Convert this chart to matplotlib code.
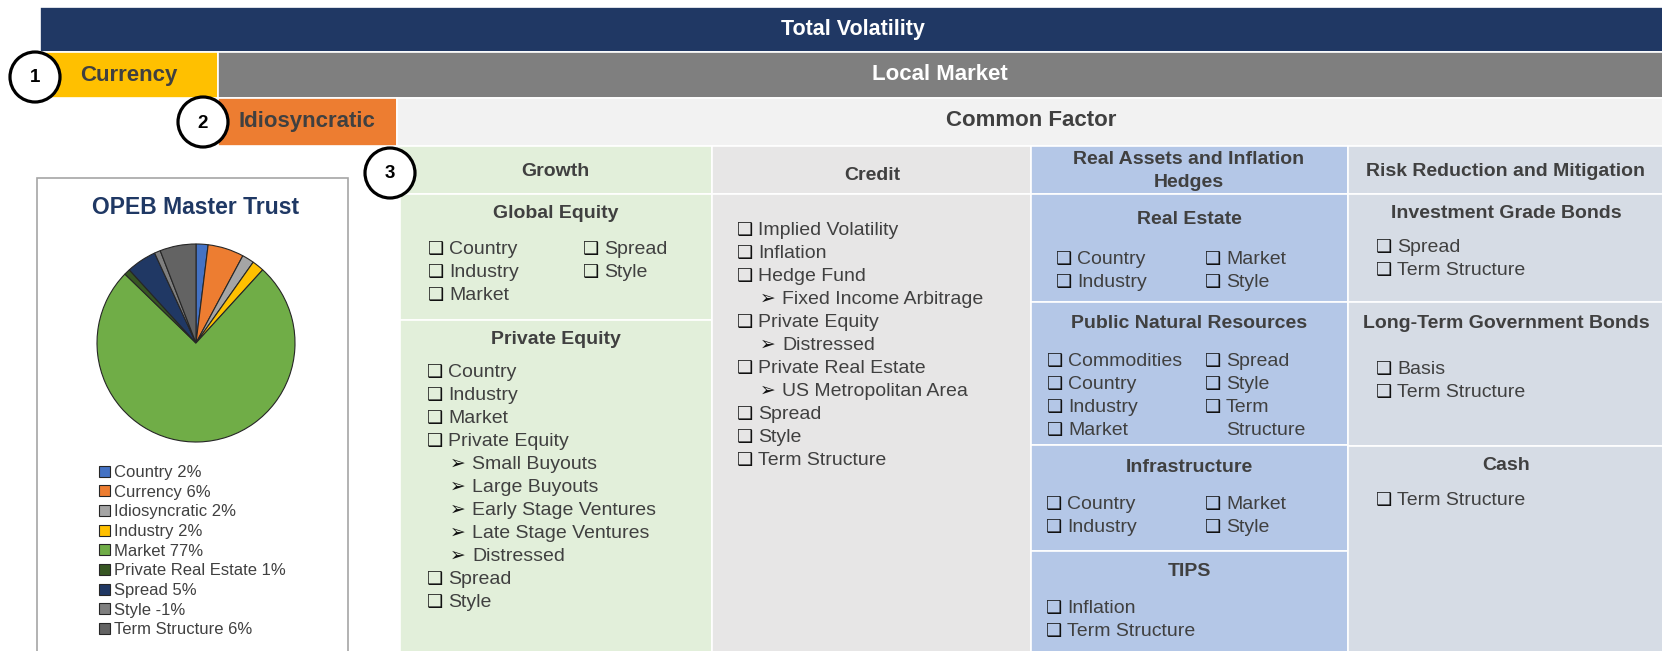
import matplotlib.pyplot as plt
from matplotlib.patches import Rectangle, Circle

plt.rcParams['font.family'] = ['Liberation Sans', 'DejaVu Sans']

W, H = 1662, 651
DARK = '#404040'

# pie data
pie_labels = ['Country', 'Currency', 'Idiosyncratic', 'Industry', 'Market',
              'Private Real Estate', 'Spread', 'Style', 'Term Structure']
pie_values = [2, 6, 2, 2, 77, 1, 5, -1, 6]
pie_colors = ['#4472C4', '#ED7D31', '#A5A5A5', '#FFC000', '#70AD47',
              '#375623', '#203864', '#7F7F7F', '#636363']

# diagram text
band_labels = ['Total Volatility', 'Currency', 'Local Market', 'Idiosyncratic', 'Common Factor']
step_numbers = ['1', '2', '3']
column_titles = ['Growth', 'Credit', 'Real Assets and Inflation\nHedges',
                 'Risk Reduction and Mitigation']

global_equity_left = ['Country', 'Industry', 'Market']
global_equity_right = ['Spread', 'Style']
private_equity = [('box', 'Country'), ('box', 'Industry'), ('box', 'Market'),
                  ('box', 'Private Equity'), ('arrow', 'Small Buyouts'),
                  ('arrow', 'Large Buyouts'), ('arrow', 'Early Stage Ventures'),
                  ('arrow', 'Late Stage Ventures'), ('arrow', 'Distressed'),
                  ('box', 'Spread'), ('box', 'Style')]
credit_items = [('box', 'Implied Volatility'), ('box', 'Inflation'), ('box', 'Hedge Fund'),
                ('arrow', 'Fixed Income Arbitrage'), ('box', 'Private Equity'),
                ('arrow', 'Distressed'), ('box', 'Private Real Estate'),
                ('arrow', 'US Metropolitan Area'), ('box', 'Spread'), ('box', 'Style'),
                ('box', 'Term Structure')]
real_estate_left = ['Country', 'Industry']
real_estate_right = ['Market', 'Style']
resources_left = ['Commodities', 'Country', 'Industry', 'Market']
resources_right = [('box', 'Spread'), ('box', 'Style'), ('box', 'Term'), ('cont', 'Structure')]
infra_left = ['Country', 'Industry']
infra_right = ['Market', 'Style']
tips_items = ['Inflation', 'Term Structure']
igb_items = ['Spread', 'Term Structure']
ltgb_items = ['Basis', 'Term Structure']
cash_items = ['Term Structure']

fig = plt.figure(figsize=(W / 100, H / 100), dpi=100)
ax = fig.add_axes([0, 0, 1, 1])
ax.set_xlim(0, W)
ax.set_ylim(H, 0)
ax.axis('off')


def box(x0, y0, x1, y1, color, ec='white', lw=1.2, z=1):
    ax.add_patch(Rectangle((x0, y0), x1 - x0, y1 - y0, facecolor=color,
                           edgecolor=ec, lw=lw, zorder=z))


def label(x, y, s, size=14, bold=True, color=DARK, ha='center'):
    ax.text(x, y, s, fontsize=size, fontweight='bold' if bold else 'normal',
            color=color, ha=ha, va='center', zorder=5, linespacing=1.45)


def items(x, y0, entries, dy=23, size=14):
    for i, e in enumerate(entries):
        kind, txt = e if isinstance(e, tuple) else ('box', e)
        yb = y0 + i * dy + 7
        if kind == 'box':
            ax.text(x, yb, '\u2751', fontsize=13, fontweight='bold', family='DejaVu Sans',
                    color='#111111', va='baseline', zorder=5)
            ax.text(x + 21, yb, txt, fontsize=size, color=DARK, va='baseline', zorder=5)
        elif kind == 'arrow':
            ax.text(x + 23, yb, '\u27a2', fontsize=13.5, family='DejaVu Sans',
                    color='#111111', va='baseline', zorder=5)
            ax.text(x + 45, yb, txt, fontsize=size, color=DARK, va='baseline', zorder=5)
        else:
            ax.text(x + 21, yb, txt, fontsize=size, color=DARK, va='baseline', zorder=5)


# top bands
box(40, 7, W + 5, 52, '#203864')
box(40, 52, 218, 98, '#FFC000')
box(218, 52, W + 5, 98, '#7F7F7F')
box(218, 98, 397, 146, '#ED7D31')
box(397, 98, W + 5, 146, '#F2F2F2')
label(853, 30, band_labels[0], 15.5, color='white')
label(129, 75, band_labels[1], 16)
label(940, 75, band_labels[2], 16, color='white')
label(307, 122, band_labels[3], 16)
label(1031, 120, band_labels[4], 16)

# columns
col_x = [398, 712, 1031, 1348, W + 5]
col_colors = ['#E2EFDA', '#E7E6E6', '#B4C7E7', '#D6DCE5']
for i in range(4):
    box(col_x[i], 146, col_x[i + 1], 194, col_colors[i])
box(400, 194, 712, 320, col_colors[0])
box(400, 320, 712, H + 5, col_colors[0])
box(712, 194, 1031, H + 5, col_colors[1])
for y0, y1 in [(194, 302), (302, 445), (445, 551), (551, H + 5)]:
    box(1031, y0, 1348, y1, col_colors[2])
for y0, y1 in [(194, 302), (302, 446), (446, H + 5)]:
    box(1348, y0, W + 5, y1, col_colors[3])

label(555, 172, column_titles[0])
label(872, 175, column_titles[1])
label(1189, 171, column_titles[2])
label(1505, 172, column_titles[3])

# growth
label(556, 214, 'Global Equity')
items(428, 247, global_equity_left)
items(583, 247, global_equity_right)
label(556, 340, 'Private Equity')
items(427, 370, private_equity)

# credit
items(737, 228, credit_items)

# real assets
label(1189, 219, 'Real Estate')
items(1056, 257, real_estate_left)
items(1205, 257, real_estate_right)
label(1189, 324, 'Public Natural Resources')
items(1047, 359, resources_left)
items(1205, 359, resources_right)
label(1189, 467, 'Infrastructure')
items(1046, 502, infra_left)
items(1205, 502, infra_right)
label(1189, 572, 'TIPS')
items(1046, 606, tips_items)

# risk reduction
label(1506, 213, 'Investment Grade Bonds')
items(1376, 245, igb_items)
label(1506, 323, 'Long-Term Government Bonds')
items(1376, 367, ltgb_items)
label(1506, 466, 'Cash')
items(1376, 498, cash_items)

# numbered circles
for (cx, cy), n in zip([(35, 77), (203, 122), (390, 173)], step_numbers):
    ax.add_patch(Circle((cx, cy), 25, facecolor='white', edgecolor='black', lw=2.3, zorder=6))
    ax.text(cx, cy + 1, n, fontsize=13.5, fontweight='bold', color='black',
            ha='center', va='center', zorder=7)

# pie chart panel
box(37, 178, 348, H + 20, 'white', ec='#A6A6A6', lw=1.2, z=2)
ax.text(196, 208, 'OPEB Master Trust', fontsize=16.5, fontweight='bold',
        color='#1F3864', ha='center', va='center', zorder=5)

pax = fig.add_axes([(196 - 100) / W, 1 - (343 + 100) / H, 200 / W, 200 / H])
wedges, _ = pax.pie([abs(v) for v in pie_values], colors=pie_colors, startangle=90,
                    counterclock=False, radius=0.99,
                    wedgeprops=dict(edgecolor='#262626', linewidth=0.8))
pax.set_xlim(-1, 1)
pax.set_ylim(-1, 1)

leg_labels = [f'{n} {v}%' for n, v in zip(pie_labels, pie_values)]
leg = fig.legend(wedges, leg_labels, loc='upper left',
                 bbox_to_anchor=(99 / W, 1 - 465 / H), frameon=False,
                 fontsize=12, handlelength=0.65, handleheight=0.65,
                 handletextpad=0.25, labelspacing=0.28, borderpad=0, borderaxespad=0)
for t in leg.get_texts():
    t.set_color(DARK)

fig.savefig('out.png', dpi=100)
